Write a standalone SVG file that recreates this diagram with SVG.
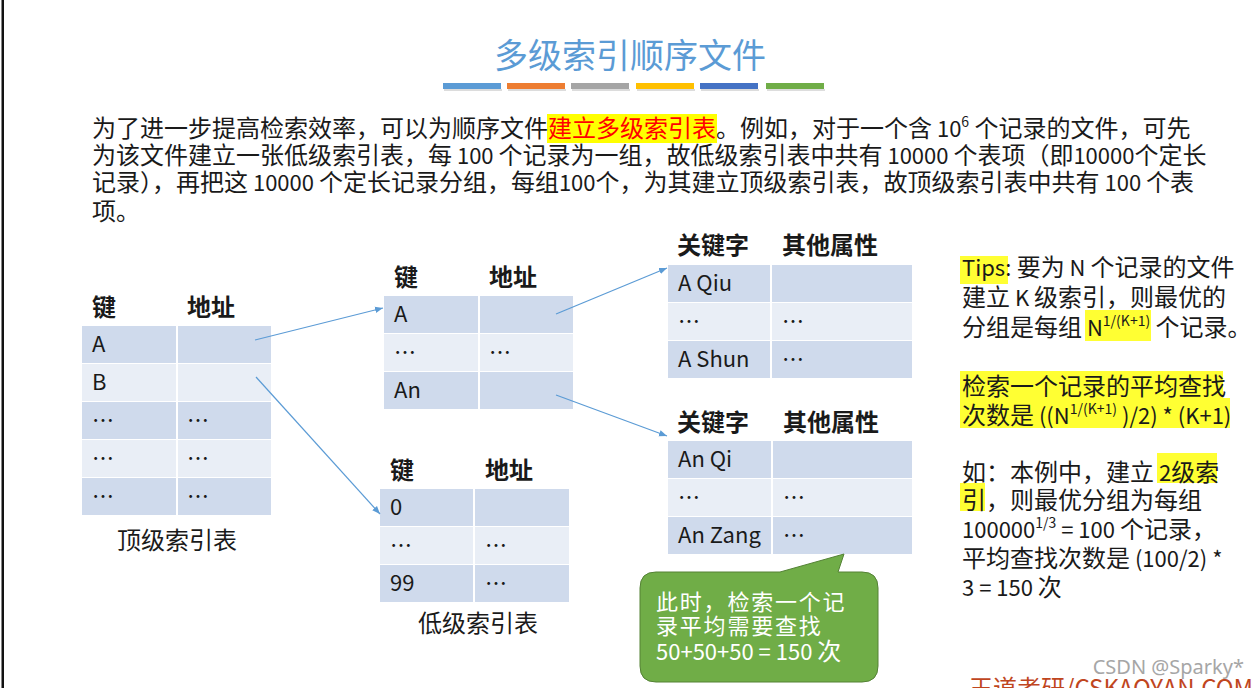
<svg xmlns="http://www.w3.org/2000/svg" width="1260" height="688" viewBox="0 0 1260 688">
<style>
text{font-family:"Noto Sans CJK SC","Noto Sans",sans-serif;fill:#1a1a1a;}
.p{font-size:24px;}
.l{font-size:22px;}
.h{font-size:24px;font-weight:bold;}
.c{font-size:22px;}
.sup{font-size:14px;}
.dk{fill:#CFDAEC;}
.lt{fill:#E9EEF6;}
.hl{fill:#FFFF33;}
.w{fill:#ffffff;}
.conn{stroke:#5B9BD5;stroke-width:1.2;fill:none;marker-end:url(#ah);}
</style>
<defs>
<marker id="ah" viewBox="0 0 10 10" markerWidth="8" markerHeight="8" refX="10" refY="5" orient="auto" markerUnits="userSpaceOnUse">
<path d="M0,1 L10,5 L0,9 Z" fill="#5B9BD5"/>
</marker>
</defs>
<rect x="0" y="0" width="1260" height="688" fill="#ffffff"/>
<rect x="1.5" y="0" width="2.5" height="688" fill="#111111"/>

<g id="title">
<text x="630" y="68" text-anchor="middle" style="font-size:34px;fill:#5B9BD5;">多级索引顺序文件</text>
<g opacity="0.25" fill="#777">
<rect x="444" y="89" width="58" height="2"/><rect x="508" y="89" width="58" height="2"/><rect x="572" y="89" width="58" height="2"/><rect x="637" y="89" width="58" height="2"/><rect x="701" y="89" width="58" height="2"/><rect x="767" y="89" width="58" height="2"/>
</g>
<rect x="443" y="83" width="58" height="6" fill="#5B9BD5"/>
<rect x="507" y="83" width="58" height="6" fill="#ED7D31"/>
<rect x="571" y="83" width="58" height="6" fill="#A5A5A5"/>
<rect x="636" y="83" width="58" height="6" fill="#FFC000"/>
<rect x="700" y="83" width="58" height="6" fill="#4472C4"/>
<rect x="766" y="83" width="58" height="6" fill="#70AD47"/>
</g>

<g id="intro">
<rect x="547" y="114" width="170" height="29" fill="#FFFF00"/>
<text class="p" x="92" y="137">为了进一步提高检索效率，可以为顺序文件<tspan style="fill:#FF0000">建立多级索引表</tspan>。例如，对于一个含<tspan class="l"> 10</tspan><tspan class="sup" dy="-10">6</tspan><tspan dy="10"> 个记录的文件，可先</tspan></text>
<text class="p" x="92" y="164">为该文件建立一张低级索引表，每<tspan class="l"> 100 </tspan>个记录为一组，故低级索引表中共有<tspan class="l"> 10000 </tspan>个表项（即<tspan class="l">10000</tspan>个定长</text>
<text class="p" x="92" y="191">记录），再把这<tspan class="l"> 10000 </tspan>个定长记录分组，每组<tspan class="l">100</tspan>个，为其建立顶级索引表，故顶级索引表中共有<tspan class="l"> 100 </tspan>个表</text>
<text class="p" x="92" y="220">项。</text>
</g>

<g id="top-index">
<text class="h" x="92" y="316">键</text>
<text class="h" x="187" y="316">地址</text>
<rect class="dk" x="82" y="326" width="94" height="37"/><rect class="dk" x="178" y="326" width="93" height="37"/>
<rect class="lt" x="82" y="364" width="94" height="37"/><rect class="lt" x="178" y="364" width="93" height="37"/>
<rect class="dk" x="82" y="402" width="94" height="37"/><rect class="dk" x="178" y="402" width="93" height="37"/>
<rect class="lt" x="82" y="440" width="94" height="37"/><rect class="lt" x="178" y="440" width="93" height="37"/>
<rect class="dk" x="82" y="478" width="94" height="37"/><rect class="dk" x="178" y="478" width="93" height="37"/>
<text class="c" x="92" y="352">A</text>
<text class="c" x="92" y="390">B</text>
<text class="c" x="92" y="428">…</text><text class="c" x="187" y="428">…</text>
<text class="c" x="92" y="466">…</text><text class="c" x="187" y="466">…</text>
<text class="c" x="92" y="504">…</text><text class="c" x="187" y="504">…</text>
<text class="p" x="117" y="549">顶级索引表</text>
</g>

<g id="low-index-A">
<text class="h" x="394" y="286">键</text>
<text class="h" x="489" y="286">地址</text>
<rect class="dk" x="384" y="296" width="94" height="37"/><rect class="dk" x="480" y="296" width="93" height="37"/>
<rect class="lt" x="384" y="334" width="94" height="37"/><rect class="lt" x="480" y="334" width="93" height="37"/>
<rect class="dk" x="384" y="372" width="94" height="37"/><rect class="dk" x="480" y="372" width="93" height="37"/>
<text class="c" x="394" y="322">A</text>
<text class="c" x="394" y="360">…</text><text class="c" x="489" y="360">…</text>
<text class="c" x="394" y="398">An</text>
</g>

<g id="low-index-B">
<text class="h" x="390" y="479">键</text>
<text class="h" x="485" y="479">地址</text>
<rect class="dk" x="380" y="489" width="93" height="37"/><rect class="dk" x="475" y="489" width="94" height="37"/>
<rect class="lt" x="380" y="527" width="93" height="37"/><rect class="lt" x="475" y="527" width="94" height="37"/>
<rect class="dk" x="380" y="565" width="93" height="37"/><rect class="dk" x="475" y="565" width="94" height="37"/>
<text class="c" x="390" y="515">0</text>
<text class="c" x="390" y="553">…</text><text class="c" x="485" y="553">…</text>
<text class="c" x="390" y="591">99</text><text class="c" x="485" y="591">…</text>
<text class="p" x="418" y="632">低级索引表</text>
</g>

<g id="records-A">
<text class="h" x="677" y="254">关键字</text>
<text class="h" x="782" y="254">其他属性</text>
<rect class="dk" x="668" y="265" width="102" height="37"/><rect class="dk" x="772" y="265" width="140" height="37"/>
<rect class="lt" x="668" y="303" width="102" height="37"/><rect class="lt" x="772" y="303" width="140" height="37"/>
<rect class="dk" x="668" y="341" width="102" height="37"/><rect class="dk" x="772" y="341" width="140" height="37"/>
<text class="c" x="678" y="291">A Qiu</text>
<text class="c" x="678" y="329">…</text><text class="c" x="782" y="329">…</text>
<text class="c" x="678" y="367">A Shun</text><text class="c" x="782" y="367">…</text>
</g>

<g id="records-An">
<text class="h" x="677" y="431">关键字</text>
<text class="h" x="783" y="431">其他属性</text>
<rect class="dk" x="668" y="441" width="103" height="37"/><rect class="dk" x="773" y="441" width="139" height="37"/>
<rect class="lt" x="668" y="479" width="103" height="37"/><rect class="lt" x="773" y="479" width="139" height="37"/>
<rect class="dk" x="668" y="517" width="103" height="37"/><rect class="dk" x="773" y="517" width="139" height="37"/>
<text class="c" x="678" y="467">An Qi</text>
<text class="c" x="678" y="505">…</text><text class="c" x="783" y="505">…</text>
<text class="c" x="678" y="543">An Zang</text><text class="c" x="783" y="543">…</text>
</g>

<g id="connectors">
<path class="conn" d="M255,340 L383,308"/>
<path class="conn" d="M256,377 L380,514"/>
<path class="conn" d="M556,314 L667,268"/>
<path class="conn" d="M556,395 L667,436"/>
</g>

<g id="callout">
<path d="M656,572 L780,572 L844,554 L838,572 L862,572 Q878,572 878,588 L878,666 Q878,682 862,682 L656,682 Q640,682 640,666 L640,588 Q640,572 656,572 Z" fill="#70AD47" stroke="#548235" stroke-width="1"/>
<text class="w" x="656" y="610" style="font-size:22px;letter-spacing:1.8px">此时，检索一个记</text>
<text class="w" x="656" y="634" style="font-size:22px;letter-spacing:1.8px">录平均需要查找</text>
<text class="w l" x="656" y="660">50+50+50 = 150 <tspan style="font-size:24px">次</tspan></text>
</g>

<g id="tips">
<rect class="hl" x="960" y="256" width="48" height="28"/>
<rect class="hl" x="1085" y="310" width="66" height="31"/>
<rect class="hl" x="960" y="371" width="263" height="27"/>
<rect class="hl" x="960" y="398" width="270" height="30"/>
<rect class="hl" x="1157" y="453" width="60" height="30"/>
<rect class="hl" x="960" y="483" width="25" height="28"/>
<text class="p" x="962" y="276"><tspan class="l">Tips:</tspan> 要为<tspan class="l"> N </tspan>个记录的文件</text>
<text class="p" x="962" y="306">建立<tspan class="l"> K </tspan>级索引，则最优的</text>
<text class="p" x="962" y="336">分组是每组<tspan class="l"> N</tspan><tspan class="sup" dy="-10">1/(K+1)</tspan><tspan dy="10"> 个记录。</tspan></text>
<text class="p" x="962" y="395">检索一个记录的平均查找</text>
<text class="p" x="962" y="424">次数是<tspan class="l"> ((N</tspan><tspan class="sup" dy="-10">1/(K+1)</tspan><tspan class="l" dy="10"> )/2) * (K+1)</tspan></text>
<text class="p" x="962" y="481">如：本例中，建立<tspan class="l"> 2</tspan>级索</text>
<text class="p" x="962" y="509">引，则最优分组为每组</text>
<text class="p" x="962" y="538"><tspan class="l">100000</tspan><tspan class="sup" dy="-10">1/3</tspan><tspan class="l" dy="10"> = 100 </tspan>个记录，</text>
<text class="p" x="962" y="567">平均查找次数是<tspan class="l"> (100/2) *</tspan></text>
<text class="p" x="962" y="596"><tspan class="l">3 = 150 </tspan>次</text>
</g>

<g id="watermark">
<text x="1244" y="674" text-anchor="end" style="font-family:'Noto Sans',sans-serif;font-size:20px;fill:#A6A6A6;">CSDN @Sparky*</text>
<text x="969" y="697" style="font-size:24px;fill:#C0461E;">王道考研/CSKAOYAN.COM</text>
</g>
</svg>
